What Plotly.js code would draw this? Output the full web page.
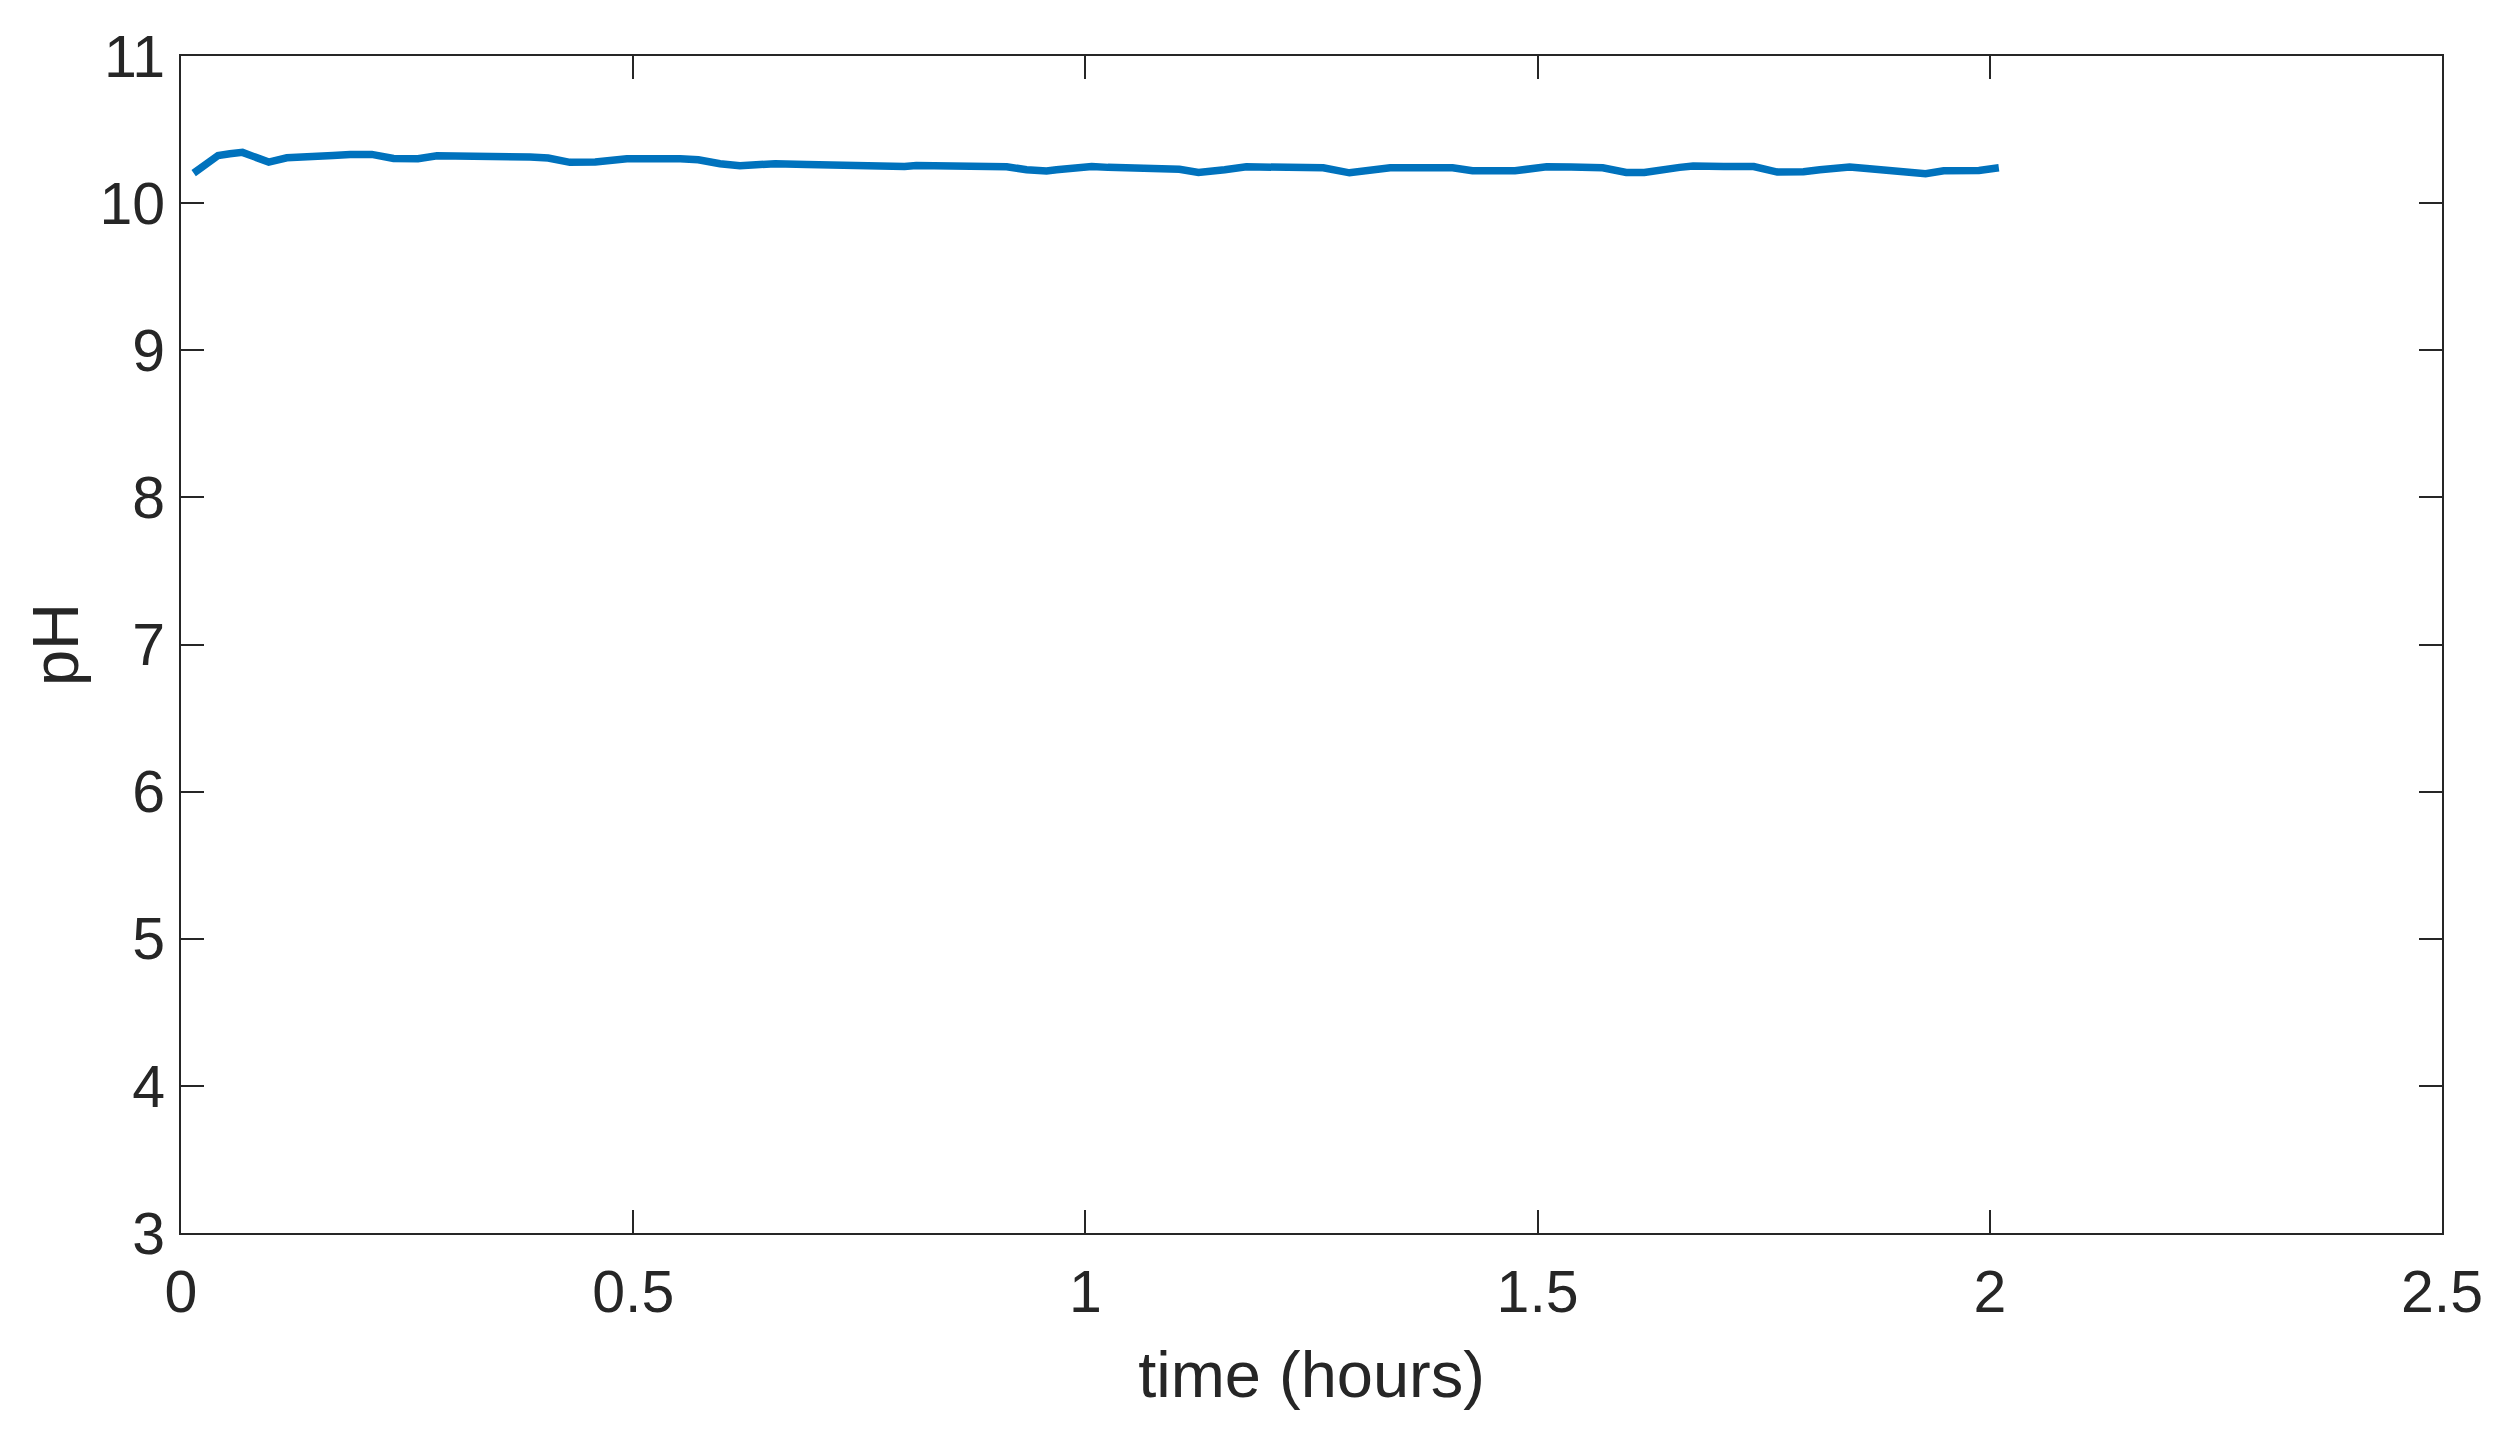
<!DOCTYPE html>
<html>
<head>
<meta charset="utf-8">
<script src="https://cdn.plot.ly/plotly-3.0.1.min.js"></script>
<style>html,body{margin:0;padding:0;background:#fff;}#chart{width:2511px;height:1431px;}</style>
</head>
<body>
<div id="chart"></div>
<script>
const timeHours = [0.014,0.041,0.054,0.068,0.082,0.097,0.117,0.154,0.168,0.187,0.211,0.235,0.262,0.283,0.331,0.386,0.406,0.430,0.458,0.478,0.493,0.552,
  0.572,0.596,0.618,0.636,0.657,0.692,0.743,0.762,0.782,0.800,0.813,0.857,0.913,0.935,0.957,0.968,0.986,1.007,1.025,1.066,1.104,
  1.125,1.139,1.154,1.178,1.243,1.263,1.292,1.311,1.337,1.406,1.428,1.475,1.510,1.537,1.572,1.598,1.618,1.657,
  1.672,1.706,1.713,1.739,1.765,1.794,1.812,1.845,1.864,1.894,1.929,1.949,1.988,2.010];
const pHValues = [10.204,10.324,10.336,10.345,10.313,10.279,10.308,10.313,10.324,10.331,10.331,10.304,10.302,10.322,10.322,10.313,10.306,10.277,10.279,10.295,10.302,10.302,
  10.295,10.268,10.254,10.261,10.268,10.263,10.256,10.249,10.240,10.249,10.256,10.249,10.247,10.227,10.218,10.227,10.240,10.249,10.243,10.240,10.230,
  10.209,10.213,10.227,10.247,10.247,10.240,10.206,10.220,10.240,10.240,10.220,10.220,10.247,10.245,10.240,10.209,10.209,10.243,
  10.252,10.249,10.247,10.249,10.211,10.213,10.227,10.245,10.236,10.218,10.200,10.220,10.222,10.240];
const xTicks = [0, 0.5, 1, 1.5, 2, 2.5];
const xTickLabels = ['0', '0.5', '1', '1.5', '2', '2.5'];
const yTicks = [3, 4, 5, 6, 7, 8, 9, 10, 11];
const yTickLabels = ['3', '4', '5', '6', '7', '8', '9', '10', '11'];

const fontFam = 'Liberation Sans, Arial, Helvetica, sans-serif';
const axisCommon = {
  showline: true, linecolor: '#262626', linewidth: 2, mirror: 'ticks',
  ticks: 'inside', ticklen: 23, tickwidth: 2, tickcolor: '#262626',
  showgrid: false, zeroline: false,
  tickfont: {family: fontFam, size: 59, color: '#262626'},
  tickmode: 'array'
};
const trace = {
  x: timeHours, y: pHValues, type: 'scatter', mode: 'lines',
  line: {color: '#0072BD', width: 7.5}
};
const layout = {
  width: 2511, height: 1431,
  paper_bgcolor: '#ffffff', plot_bgcolor: '#ffffff',
  margin: {l: 181, r: 69, t: 56, b: 198},
  showlegend: false,
  xaxis: Object.assign({}, axisCommon, {
    range: [0, 2.5], tickvals: xTicks, ticktext: xTickLabels,
    ticklabelstandoff: 6,
    title: {text: 'time (hours)', font: {family: fontFam, size: 65, color: '#262626'}, standoff: 28}
  }),
  yaxis: Object.assign({}, axisCommon, {
    range: [3, 11], tickvals: yTicks, ticktext: yTickLabels,
    ticklabelstandoff: 2,
    title: {text: 'pH', font: {family: fontFam, size: 65, color: '#262626'}, standoff: 0}
  })
};
Plotly.newPlot('chart', [trace], layout, {staticPlot: true, displayModeBar: false});
</script>
</body>
</html>
